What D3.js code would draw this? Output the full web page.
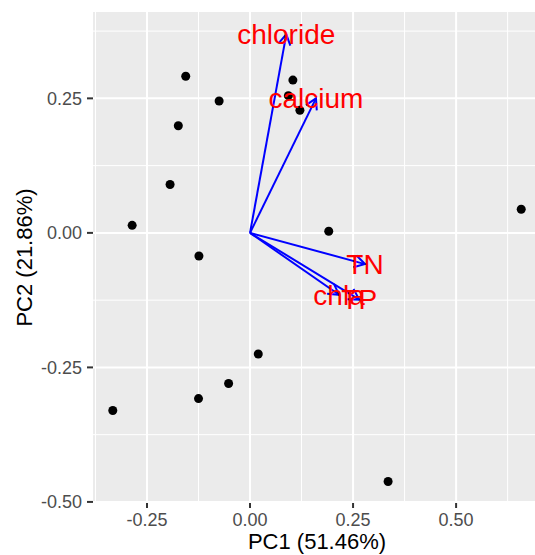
<!DOCTYPE html>
<meta charset="utf-8">
<style>
body { margin: 0; background: #fff; }
svg { display: block; font-family: "Liberation Sans", Arial, sans-serif; }
.grid-major { stroke: #fff; stroke-width: 2; }
.grid-minor { stroke: #fff; stroke-width: 1; }
.tick-label { fill: #4d4d4d; font-size: 18px; }
.axis-title { fill: #000; font-size: 22px; }
.arrow { stroke: #0000ff; stroke-width: 2; fill: none; }
.var-label { fill: #ff0000; font-size: 28px; }
</style>
<body>
<script src="https://d3js.org/d3.v7.min.js"></script>
<script>

const width = 535;
const height = 555;

// sample scores
const pc1 = [-0.156, -0.075, -0.174, -0.194, -0.286, -0.124, 0.104, 0.093, 0.121,
             0.191, 0.658, 0.020, -0.052, -0.125, -0.333, 0.335];
const pc2 = [0.291, 0.245, 0.199, 0.090, 0.014, -0.043, 0.284, 0.255, 0.228,
             0.003, 0.044, -0.225, -0.280, -0.308, -0.330, -0.462];

// variable loadings
const vars = ["chloride", "calcium", "TN", "chla", "TP"];
const loadX = [0.088, 0.160, 0.279, 0.216, 0.265];
const loadY = [0.369, 0.250, -0.058, -0.115, -0.124];

const xTicks = [-0.25, 0, 0.25, 0.5];
const yTicks = [-0.5, -0.25, 0, 0.25];
const xMinor = [-0.375, -0.125, 0.125, 0.375, 0.625];
const yMinor = [-0.375, -0.125, 0.125, 0.375];

const panel = { left: 93, right: 541, top: 12, bottom: 503 };

const x = d3.scaleLinear().domain([-0.381, 0.706]).range([panel.left, panel.right]);
const y = d3.scaleLinear().domain([-0.502, 0.4105]).range([panel.bottom, panel.top]);

const svg = d3.select("body").append("svg")
    .attr("width", width)
    .attr("height", height);

svg.append("rect")
    .attr("x", panel.left)
    .attr("y", panel.top)
    .attr("width", panel.right - panel.left)
    .attr("height", panel.bottom - panel.top)
    .attr("fill", "#ebebeb");

const grid = svg.append("g");

grid.selectAll(".vminor").data(xMinor).enter().append("line")
    .attr("class", "grid-minor")
    .attr("x1", d => x(d)).attr("x2", d => x(d))
    .attr("y1", panel.top).attr("y2", panel.bottom);

grid.selectAll(".hminor").data(yMinor).enter().append("line")
    .attr("class", "grid-minor")
    .attr("y1", d => y(d)).attr("y2", d => y(d))
    .attr("x1", panel.left).attr("x2", panel.right);

grid.selectAll(".vmajor").data(xTicks).enter().append("line")
    .attr("class", "grid-major")
    .attr("x1", d => x(d)).attr("x2", d => x(d))
    .attr("y1", panel.top).attr("y2", panel.bottom);

grid.selectAll(".hmajor").data(yTicks).enter().append("line")
    .attr("class", "grid-major")
    .attr("y1", d => y(d)).attr("y2", d => y(d))
    .attr("x1", panel.left).attr("x2", panel.right);

// axes (ggplot prints a plain hyphen for negatives)
const fmt = d => d3.format(".2f")(d).replace("\u2212", "-");

const xAxis = svg.append("g");
xAxis.selectAll("line").data(xTicks).enter().append("line")
    .attr("x1", d => x(d)).attr("x2", d => x(d))
    .attr("y1", panel.bottom).attr("y2", panel.bottom + 5)
    .attr("stroke", "#333").attr("stroke-width", 2);
xAxis.selectAll("text").data(xTicks).enter().append("text")
    .attr("class", "tick-label")
    .attr("x", d => x(d))
    .attr("y", panel.bottom + 23)
    .attr("text-anchor", "middle")
    .text(d => fmt(d));

const yAxis = svg.append("g");
yAxis.selectAll("line").data(yTicks).enter().append("line")
    .attr("x1", panel.left - 6).attr("x2", panel.left)
    .attr("y1", d => y(d)).attr("y2", d => y(d))
    .attr("stroke", "#333").attr("stroke-width", 2);
yAxis.selectAll("text").data(yTicks).enter().append("text")
    .attr("class", "tick-label")
    .attr("x", panel.left - 11)
    .attr("y", d => y(d))
    .attr("dy", "0.35em")
    .attr("text-anchor", "end")
    .text(d => fmt(d));

svg.append("text")
    .attr("class", "axis-title")
    .attr("x", (panel.left + panel.right) / 2)
    .attr("y", 549)
    .attr("text-anchor", "middle")
    .text("PC1 (51.46%)");

svg.append("text")
    .attr("class", "axis-title")
    .attr("transform", `translate(32,${(panel.top + panel.bottom) / 2}) rotate(-90)`)
    .attr("text-anchor", "middle")
    .text("PC2 (21.86%)");

// points
svg.append("g").selectAll("circle")
    .data(pc1.map((d, i) => [d, pc2[i]]))
  .enter().append("circle")
    .attr("cx", d => x(d[0]))
    .attr("cy", d => y(d[1]))
    .attr("r", 4.5)
    .attr("fill", "#000");

// loading arrows
const loadings = vars.map((v, i) => ({ name: v, x: loadX[i], y: loadY[i] }));
const headLen = 12;

const arrows = svg.append("g");
loadings.forEach(d => {
  const x0 = x(0), y0 = y(0), x1 = x(d.x), y1 = y(d.y);
  const ang = Math.atan2(y1 - y0, x1 - x0);
  const a1 = ang + Math.PI - Math.PI / 6;
  const a2 = ang + Math.PI + Math.PI / 6;
  arrows.append("line")
      .attr("class", "arrow")
      .attr("x1", x0).attr("y1", y0)
      .attr("x2", x1).attr("y2", y1);
  arrows.append("path")
      .attr("class", "arrow")
      .attr("d", `M${x1 + headLen * Math.cos(a1)},${y1 + headLen * Math.sin(a1)}` +
                 `L${x1},${y1}` +
                 `L${x1 + headLen * Math.cos(a2)},${y1 + headLen * Math.sin(a2)}`);
});

// labels
svg.append("g").selectAll("text")
    .data(loadings)
  .enter().append("text")
    .attr("class", "var-label")
    .attr("x", d => x(d.x))
    .attr("y", d => y(d.y))
    .attr("dy", "0.35em")
    .attr("text-anchor", "middle")
    .text(d => d.name);

</script>
</body>
